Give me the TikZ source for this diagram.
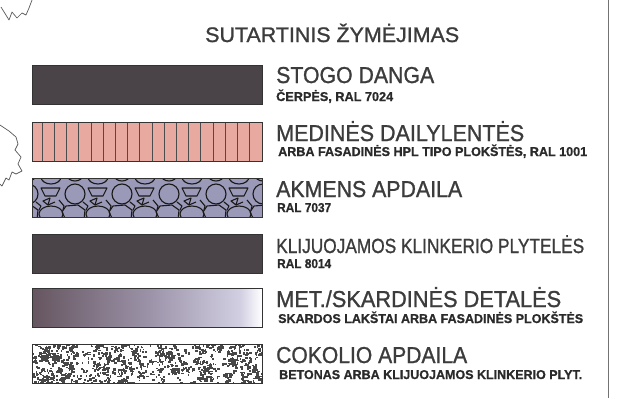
\documentclass[tikz,border=0pt]{standalone}
\usepackage{fontspec}
\setmainfont{Liberation Sans}
\newfontfamily\headfont[FakeBold=1.1]{Liberation Sans}
\newfontfamily\subfont[FakeBold=0.8]{Liberation Sans Bold}
\usepackage{graphicx}
\newsavebox\fitbox
\newcommand\fitto[2]{\sbox\fitbox{#2}\pgfmathsetmacro\fitfac{#1/\the\wd\fitbox}\scalebox{\fitfac}[1]{\usebox\fitbox}}
\definecolor{ink}{HTML}{3C3C3C}
\definecolor{subink}{HTML}{2A2A2A}
\definecolor{darksw}{HTML}{4A4448}
\definecolor{pinksw}{HTML}{E8A9A1}
\definecolor{stonesw}{HTML}{9A99B8}
\definecolor{gradL}{HTML}{65555F}
\definecolor{gradM}{HTML}{9C93A9}
\definecolor{gradR}{HTML}{D2CFE2}
\tikzset{
  heading/.style={anchor=base west, inner sep=0pt, text=ink, font=\headfont\fontsize{23}{23}\selectfont},
  subhead/.style={anchor=base west, inner sep=0pt, text=subink, font=\subfont\fontsize{12.8}{12.8}\selectfont},
  swborder/.style={draw=black!80, line width=0.7pt},
  stoneline/.style={draw=black!90, line width=1.1pt, line join=round},
  squiggle/.style={draw=black!65, line width=0.7pt, line join=round}
}
\begin{document}
\begin{tikzpicture}[x=1pt, y=-1pt]
\useasboundingbox (0,0) rectangle (621,405);
\fill[white] (0,0) rectangle (621,405);

% right frame line
\draw[black!55, line width=0.9pt] (608,0) -- (608,398);

% left squiggles
\draw[squiggle] (1,7) -- (9,20) -- (12,12) -- (17,18) -- (22,13) -- (26,15) -- (29,8) -- (32,0);
\draw[squiggle] (0,125) -- (9,131) -- (16,137) -- (18,144) -- (15,150) -- (21,157) -- (18,164) -- (22,171) -- (16,174) -- (12,172) -- (9,180) -- (6,178) -- (2,186) -- (0,184);

% title
\node[anchor=base west, inner sep=0pt, text=ink, font=\headfont\fontsize{21}{21}\selectfont] (title) at (205,42) {\fitto{254pt}{SUTARTINIS ŽYMĖJIMAS}};

% 1 roof
\fill[darksw] (32,65) rectangle (262,104);
\draw[swborder] (32,65) rectangle (262,104);
\node[heading] (h1) at (276,83) {\fitto{158pt}{STOGO DANGA}};
\node[subhead] (s1) at (276,101) {\fitto{117pt}{ČERPĖS, RAL 7024}};

% 2 wood
\fill[pinksw] (32,122) rectangle (262,161);
\foreach \i in {0,...,17} \draw[black!70, line width=0.5pt] ({42+12.2*\i},122) -- ++(0,39);
\draw[swborder] (32,122) rectangle (262,161);
\node[heading] (h2) at (276,141) {\fitto{248pt}{MEDINĖS DAILYLENTĖS}};
\node[subhead] (s2) at (278,156) {\fitto{309pt}{ARBA FASADINĖS HPL TIPO PLOKŠTĖS, RAL 1001}};

% 3 stone
\begin{scope}
\clip (32,178) rectangle (262,217);
\fill[stonesw] (32,178) rectangle (262,217);
\foreach \cx in {-19,28,75,122,169,216,263}{
  \begin{scope}[shift={(\cx,196)}]
    \draw[stoneline] (0,-2) circle (10pt);
    \draw[stoneline] (13,-8) -- (32,-8) -- (28,0) -- (17,0) -- cycle;
    \draw[stoneline] (15,5) -- (22,2) -- (20,9) -- cycle;
    \draw[stoneline] (20,9) -- (27,6);
    \draw[stoneline] (23,18) ellipse [x radius=12pt, y radius=8pt];
    \draw[stoneline] (23,-19) ellipse [x radius=10pt, y radius=7pt];
    \draw[stoneline] (0,-21) ellipse [x radius=8pt, y radius=6pt];
    \draw[stoneline] (-9,10) -- (3,9) -- (10,14) -- (9,24) -- (-9,24) -- (-13,16) -- cycle;
    \draw[stoneline] (8,6) -- (13,10) -- (11,14);
    \draw[stoneline] (31,4) -- (36,10) -- (35,14);
  \end{scope}
}
\end{scope}
\draw[swborder] (32,178) rectangle (262,217);
\node[heading] (h3) at (276,197) {\fitto{186pt}{AKMENS APDAILA}};
\node[subhead] (s3) at (277,212) {\fitto{54pt}{RAL 7037}};

% 4 clinker
\fill[darksw] (32,234) rectangle (262,273);
\draw[swborder] (32,234) rectangle (262,273);
\node[heading, font=\headfont\fontsize{20.5}{20.5}\selectfont] (h4) at (276,253) {\fitto{308pt}{KLIJUOJAMOS KLINKERIO PLYTELĖS}};
\node[subhead] (s4) at (277,268) {\fitto{54pt}{RAL 8014}};

% 5 metal
\shade[left color=gradL, right color=gradM] (32,288) rectangle (150,327);
\shade[left color=gradM, right color=gradR] (150,288) rectangle (240,327);
\shade[left color=gradR, right color=white] (240,288) rectangle (262,327);
\draw[swborder] (32,288) rectangle (262,327);
\node[heading] (h5) at (276,307) {\fitto{285pt}{MET./SKARDINĖS DETALĖS}};
\node[subhead] (s5) at (278,323) {\fitto{305pt}{SKARDOS LAKŠTAI ARBA FASADINĖS PLOKŠTĖS}};

% 6 plinth
\begin{scope}
\clip (32,344) rectangle (262,383);
\fill[white] (32,344) rectangle (262,383);
\pgfmathsetseed{4242}
\foreach \i in {1,...,320}{
  \pgfmathsetmacro\cxx{30+234*rnd}
  \pgfmathsetmacro\cyy{342+43*rnd}
  \foreach \j in {1,...,4}{
    \pgfmathsetmacro\rx{\cxx+7*(rnd-0.5)}
    \pgfmathsetmacro\ry{\cyy+6*(rnd-0.5)}
    \pgfmathsetmacro\sw{1.1+2.0*rnd}
    \pgfmathsetmacro\sh{1.1+1.8*rnd}
    \fill[black!72] (\rx,\ry) rectangle ++(\sw,\sh);
  }
}
\end{scope}
\draw[swborder] (32,344) rectangle (262,383);
\node[heading] (h6) at (276,363) {\fitto{191pt}{COKOLIO APDAILA}};
\node[subhead] (s6) at (279,379) {\fitto{303pt}{BETONAS ARBA KLIJUOJAMOS KLINKERIO PLYT.}};
\end{tikzpicture}
\end{document}
